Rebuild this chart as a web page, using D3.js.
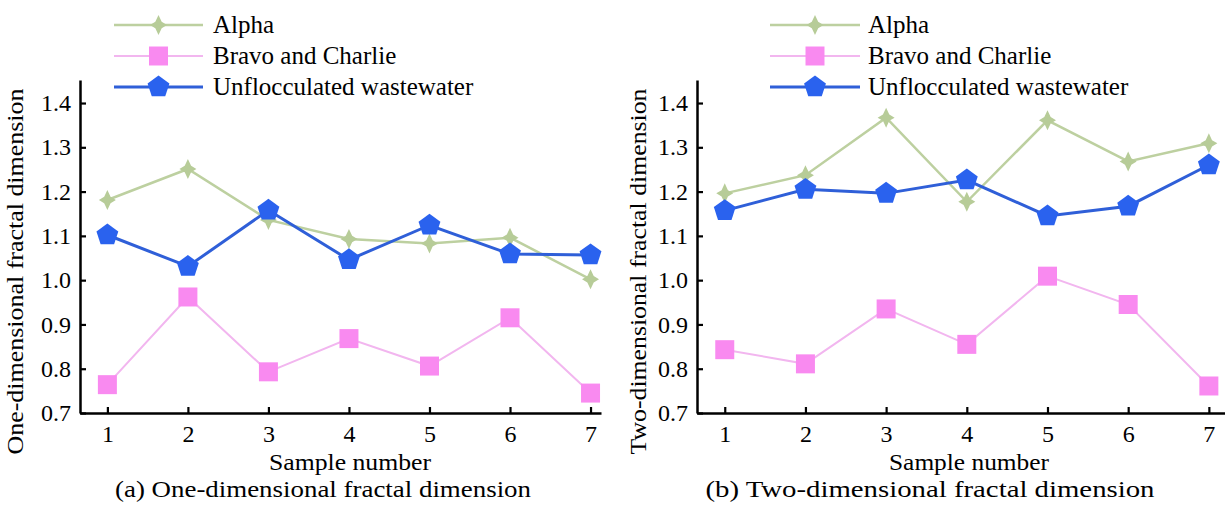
<!DOCTYPE html>
<html><head><meta charset="utf-8">
<script src="https://cdn.jsdelivr.net/npm/d3@7"></script>
<style>
body{margin:0;background:#fff;}
svg text{font-family:"Times New Roman","Liberation Serif",Tinos,serif !important;}
</style></head>
<body><svg id="c" width="1225" height="506"></svg>
<script>
const samples = [1,2,3,4,5,6,7];
const seriesNames = ["Alpha","Bravo and Charlie","Unflocculated wastewater"];
const yTicks = [0.7,0.8,0.9,1.0,1.1,1.2,1.3,1.4];
// panel (a) one-dimensional
const alphaA = [1.181,1.251,1.136,1.093,1.083,1.096,1.002];
const bravoA = [0.764,0.962,0.793,0.868,0.806,0.915,0.745];
const unflA  = [1.102,1.031,1.158,1.046,1.124,1.059,1.057];
// panel (b) two-dimensional
const alphaB = [1.196,1.237,1.367,1.177,1.361,1.268,1.309];
const bravoB = [0.843,0.811,0.935,0.855,1.009,0.945,0.761];
const unflB  = [1.157,1.205,1.196,1.226,1.145,1.167,1.260];

const svg = d3.select("#c");
const colors = {
  alphaLine:"#bdd0a0", alphaMark:"#b7cc98",
  bravoLine:"#f2b6ef", bravoMark:"#f98af0",
  unflLine:"#2f5fd8", unflMark:"#2a62ee"
};

const star4 = {draw(ctx,size){const R=Math.sqrt(size);const r=R*0.45;
  for(let i=0;i<8;i++){const a=i*Math.PI/4-Math.PI/2;const rad=(i%2)?r:R;
    const sx=(i%4===2)?0.85:1;
    const x=Math.cos(a)*rad*sx, y=Math.sin(a)*rad;
    if(i===0)ctx.moveTo(x,y);else ctx.lineTo(x,y);} ctx.closePath();}};
const pent = {draw(ctx,size){const R=Math.sqrt(size);
  for(let i=0;i<5;i++){const a=i*2*Math.PI/5-Math.PI/2;const x=Math.cos(a)*R,y=Math.sin(a)*R;
    if(i===0)ctx.moveTo(x,y);else ctx.lineTo(x,y);} ctx.closePath();}};
const sq = {draw(ctx,size){const h=Math.sqrt(size)/2;ctx.rect(-h,-h,2*h,2*h);}};

function panel(opt){
  const g = svg.append("g");
  const x = d3.scaleLinear().domain(opt.xdom).range(opt.xr);
  const y = d3.scaleLinear().domain([0.7,1.452]).range([413,80]);
  const ax = g.append("g").attr("transform",`translate(0,413)`)
    .call(d3.axisBottom(x).tickValues(samples).tickFormat(d3.format("d")).tickSize(-6).tickSizeOuter(0).tickPadding(12));
  const ay = g.append("g").attr("transform",`translate(${opt.xr[0]},0)`)
    .call(d3.axisLeft(y).tickValues(yTicks).tickFormat(d3.format(".1f")).tickSize(-6).tickSizeOuter(0).tickPadding(9));
  [ax,ay].forEach(a=>{
    a.attr("font-family",null);
    a.select(".domain").attr("stroke","#000").attr("stroke-width",2.5);
    a.selectAll(".tick line").attr("stroke","#000").attr("stroke-width",2.2);
    a.selectAll(".tick text").attr("fill","#000").style("font-size","24px");
  });
  const line = d3.line().x((d,i)=>x(samples[i])).y(d=>y(d));
  const defs = [
    {v:opt.alpha, lc:colors.alphaLine, mc:colors.alphaMark, lw:2.5, type:star4, size:100},
    {v:opt.bravo, lc:colors.bravoLine, mc:colors.bravoMark, lw:2, type:sq, size:361},
    {v:opt.unfl, lc:colors.unflLine, mc:colors.unflMark, lw:3, type:pent, size:132}
  ];
  defs.forEach(s=>{
    g.append("path").datum(s.v).attr("d",line).attr("fill","none").attr("stroke",s.lc).attr("stroke-width",s.lw);
    g.selectAll(null).data(s.v).enter().append("path")
      .attr("transform",(d,i)=>`translate(${x(samples[i])},${y(d)})`)
      .attr("d",d3.symbol().type(s.type).size(s.size)).attr("fill",s.mc);
  });
  const rows=[25,56,87];
  defs.forEach((s,i)=>{
    const lg = g.append("g").attr("transform",`translate(0,${rows[i]})`);
    lg.append("line").attr("x1",opt.leg[0]).attr("x2",opt.leg[1]).attr("y1",0).attr("y2",0)
      .attr("stroke",s.lc).attr("stroke-width",s.lw);
    lg.append("path").attr("transform",`translate(${(opt.leg[0]+opt.leg[1])/2},0)`)
      .attr("d",d3.symbol().type(s.type).size(s.size)).attr("fill",s.mc);
    lg.append("text").attr("x",opt.leg[2]).attr("y",0).attr("dy","0.33em")
      .style("font-size","25px").attr("fill","#000").text(seriesNames[i]);
  });
  g.append("text").attr("x",opt.xlab[0]).attr("y",470).attr("text-anchor","middle")
    .style("font-size","24px").attr("fill","#000").attr("textLength",opt.xlab[1]).attr("lengthAdjust","spacingAndGlyphs").text("Sample number");
  g.append("text").attr("x",opt.cap[0]).attr("y",497).attr("text-anchor","middle")
    .style("font-size","24px").attr("fill","#000").attr("textLength",opt.cap[1]).attr("lengthAdjust","spacingAndGlyphs").text(opt.capText);
  g.append("text").attr("transform",`translate(${opt.yt},271.5) rotate(-90)`).attr("text-anchor","middle").attr("dy","0.33em")
    .style("font-size","24px").attr("fill","#000").attr("textLength",366).attr("lengthAdjust","spacingAndGlyphs").text(opt.ytText);
}

panel({xdom:[0.66,7.13], xr:[80,601], alpha:alphaA, bravo:bravoA, unfl:unflA,
  leg:[114,203,213], xlab:[350,162], cap:[323,416], capText:"(a) One-dimensional fractal dimension",
  yt:15, ytText:"One-dimensional fractal dimension"});
panel({xdom:[0.656,7.2], xr:[697,1225], alpha:alphaB, bravo:bravoB, unfl:unflB,
  leg:[770,860,868], xlab:[969,160], cap:[930,449], capText:"(b) Two-dimensional fractal dimension",
  yt:638, ytText:"Two-dimensional fractal dimension"});
</script></body></html>
